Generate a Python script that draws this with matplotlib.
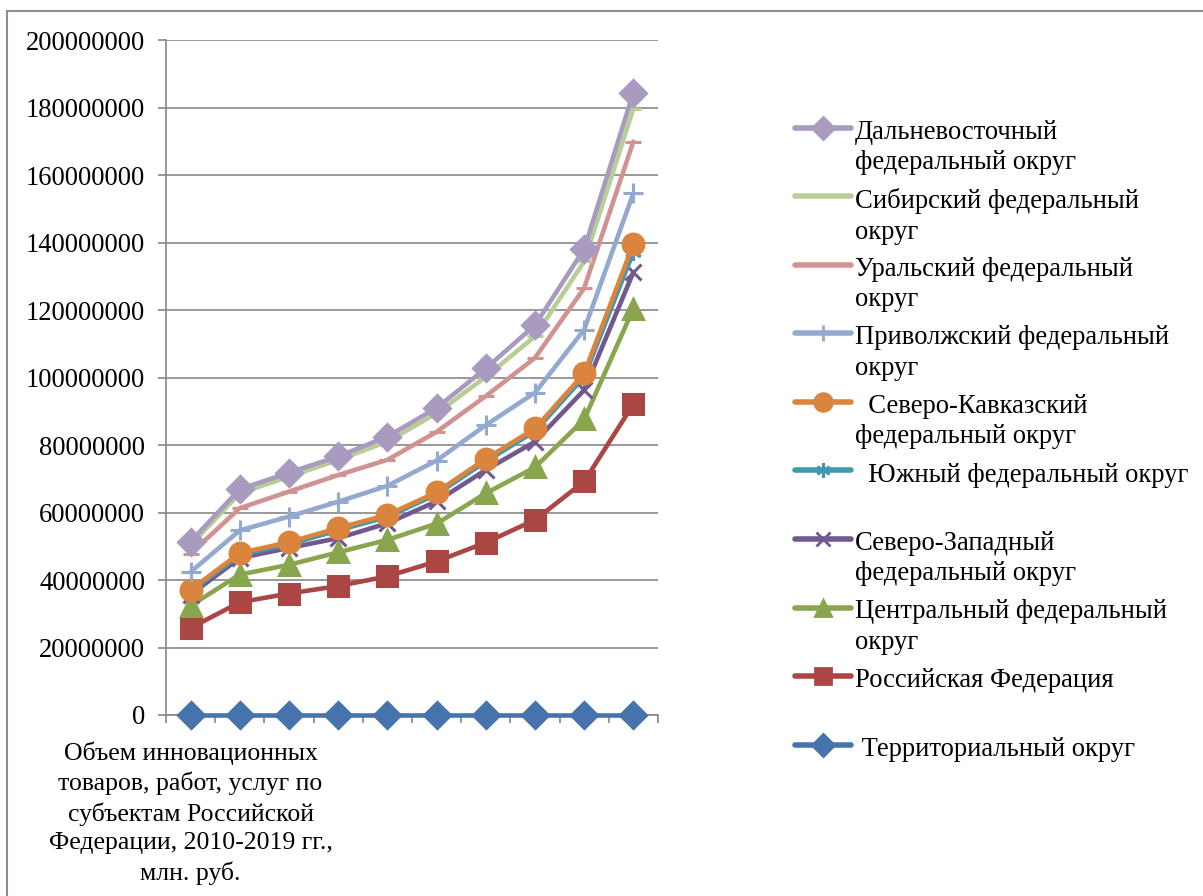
import numpy as np
import matplotlib.pyplot as plt
from matplotlib.lines import Line2D
from matplotlib.patches import Rectangle
from matplotlib.ticker import FixedLocator

SERIF = 'Liberation Serif'
plt.rcParams['font.family'] = 'serif'
plt.rcParams['font.serif'] = [SERIF]
FS = 19.2

# Data (millions of rubles), 10 points per series
x_labels = ["Объем инновационных\nтоваров, работ, услуг по\nсубъектам Российской\nФедерации, 2010-2019 гг.,\nмлн. руб.",
            "", "", "", "", "", "", "", "", ""]
y_ticks = [0, 20e6, 40e6, 60e6, 80e6, 100e6, 120e6, 140e6, 160e6, 180e6, 200e6]

territorial = [0, 0, 0, 0, 0, 0, 0, 0, 0, 0]
russia = [25.8, 33.4, 36.0, 38.2, 41.1, 45.5, 51.1, 57.8, 69.2, 92.1]
central = [32.4, 41.6, 44.5, 48.2, 51.9, 56.7, 65.7, 73.4, 87.6, 120.4]
northwest = [35.7, 46.5, 49.5, 52.4, 56.8, 63.3, 72.6, 81.0, 96.3, 131.2]
south = [36.6, 47.4, 50.6, 54.7, 58.7, 65.4, 75.1, 84.1, 100.2, 137.2]
north_caucasus = [37.1, 48.0, 51.2, 55.4, 59.3, 66.0, 75.9, 84.9, 101.2, 139.6]
volga = [42.4, 54.7, 58.8, 63.2, 67.9, 75.4, 85.9, 95.5, 114.2, 154.6]
ural = [47.8, 61.3, 66.2, 71.1, 75.6, 83.9, 94.5, 105.8, 126.5, 169.9]
siberia = [50.4, 65.7, 70.6, 75.6, 81.0, 89.4, 100.2, 112.2, 134.4, 179.7]
far_east = [51.4, 66.9, 71.8, 76.6, 82.5, 91.0, 102.7, 115.5, 138.1, 184.4]

legend_texts = [" Территориальный округ", "Российская Федерация", "Центральный федеральный\nокруг",
                "Северо-Западный\nфедеральный округ", "  Южный федеральный округ",
                "  Северо-Кавказский\nфедеральный округ", "Приволжский федеральный\nокруг",
                "Уральский федеральный\nокруг", "Сибирский федеральный\nокруг",
                "Дальневосточный\nфедеральный округ"]
series = [territorial, russia, central, northwest, south, north_caucasus, volga, ural, siberia, far_east]

colors = ['#4673AB', '#AA4643', '#89A54E', '#71588F', '#4198AF', '#DB843D',
          '#93A9CF', '#D19392', '#B9CD96', '#A99BC0']
markers = ['D', 's', '^', 'x', (6, 2, 0), 'o', '+', '_', '_', 'D']
msizes = [13, 14, 14, 12, 12, 15, 14, 12, 12, 13]

W, H = 1203, 896
fig = plt.figure(figsize=(W / 100, H / 100), dpi=100)
ax = fig.add_axes([166 / W, 1 - 715 / H, 492 / W, 675 / H])

x = np.arange(10)
for vals, c, m, ms in zip(series, colors, markers, msizes):
    ax.plot(x, np.array(vals) * 1e6, color=c, lw=3.3, marker=m, markersize=ms,
            markeredgewidth=2.2, markeredgecolor=c, markerfacecolor=c,
            solid_capstyle='round', clip_on=False, zorder=3)

ax.set_xlim(-0.5, 9.5)
ax.set_ylim(0, 200e6)
ax.set_yticks(y_ticks, [f"{v:.0f}" for v in y_ticks], family=SERIF, fontsize=FS)
ax.grid(axis='y', color='#868686', lw=1.2)
ax.set_axisbelow(True)
ax.set_xticks(x, x_labels, family=SERIF, fontsize=18.5, linespacing=1.38)
ax.xaxis.set_minor_locator(FixedLocator(np.arange(-0.5, 10, 1)))
ax.tick_params(axis='x', which='major', length=0, pad=19)
ax.tick_params(axis='x', which='minor', length=6, width=1.2, color='#868686')
ax.tick_params(axis='y', length=6, width=1.2, color='#868686', pad=9)
for s in ['top', 'right']:
    ax.spines[s].set_visible(False)
for s in ['left', 'bottom']:
    ax.spines[s].set_color('#868686')
    ax.spines[s].set_linewidth(1.2)

# legend, listed top to bottom in reverse drawing order
for i, k in enumerate(range(9, -1, -1)):
    ypx = 128 + 68.5 * i
    yy = 1 - ypx / H
    fig.add_artist(Line2D([795 / W, 851 / W], [yy, yy], color=colors[k], lw=4,
                          solid_capstyle='round'))
    fig.add_artist(Line2D([823 / W], [yy], color=colors[k], marker=markers[k],
                          markersize=msizes[k] * 0.85, markeredgewidth=2,
                          markerfacecolor=colors[k], markeredgecolor=colors[k]))
    fig.text(855 / W, 1 - (ypx - 8) / H, legend_texts[k], fontsize=FS, va='top', ha='left',
             linespacing=1.28, family=SERIF)

# chart border
fig.add_artist(Rectangle((7 / W, -0.05), 1.2, 1 - 11 / H + 0.05, transform=fig.transFigure,
                         fill=False, edgecolor='#8C8C8C', lw=1.5))

fig.savefig('out.png', dpi=100)
